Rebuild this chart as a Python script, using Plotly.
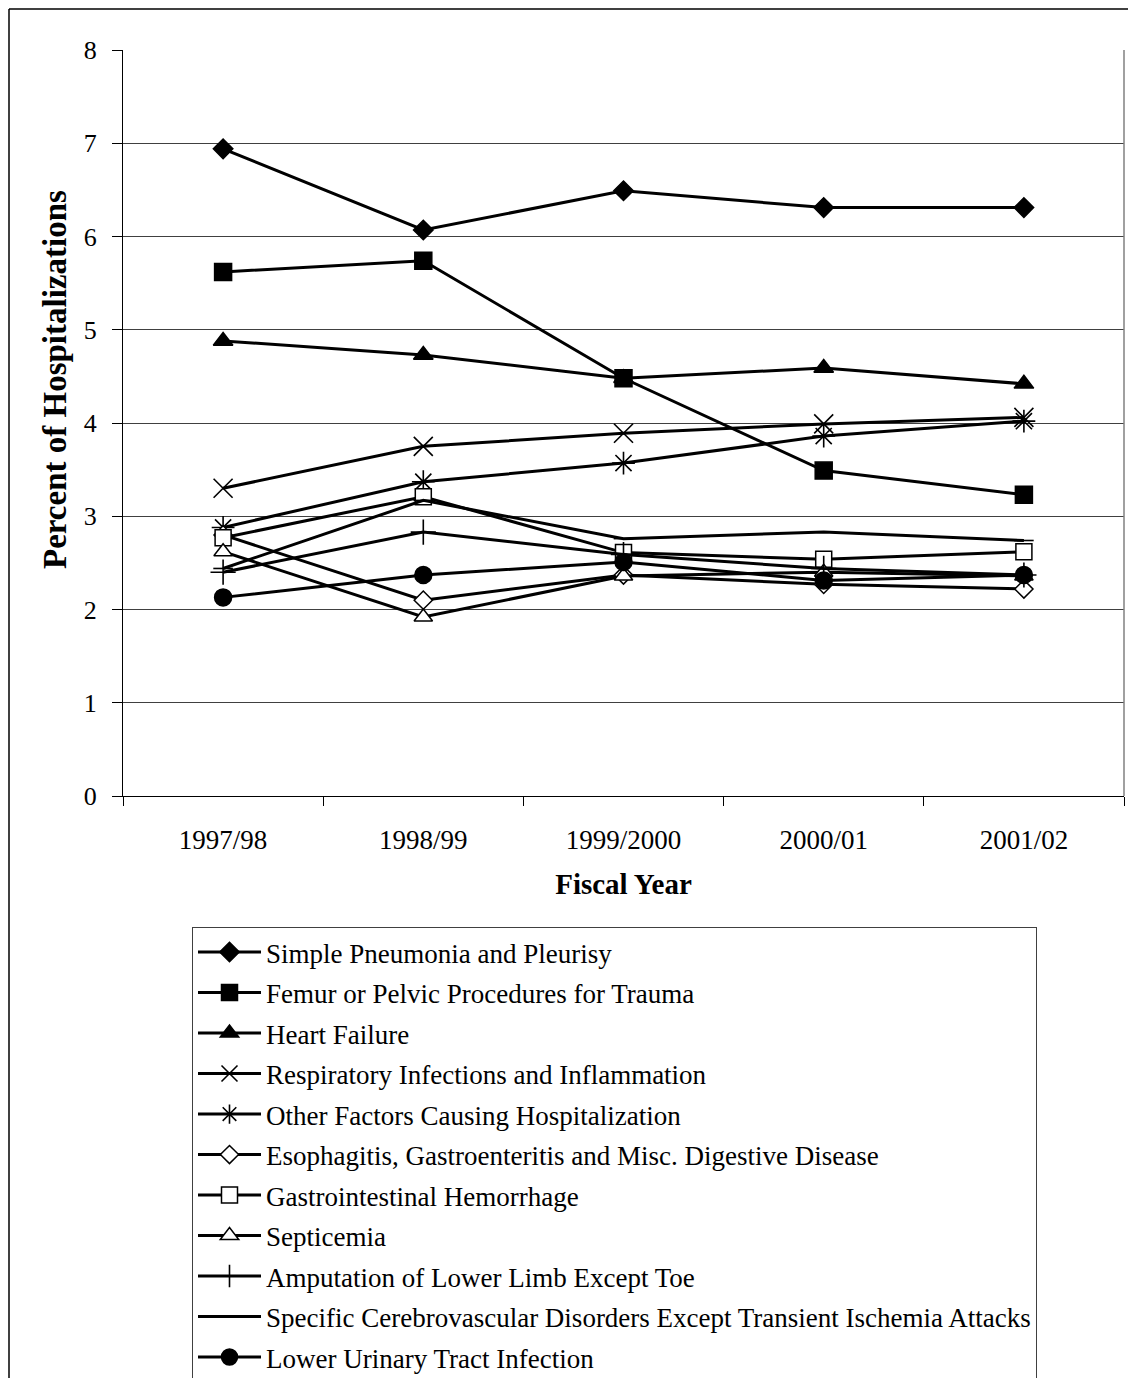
import plotly.graph_objects as go

years = ["1997/98", "1998/99", "1999/2000", "2000/01", "2001/02"]

pneumonia = [6.94, 6.07, 6.49, 6.31, 6.31]
femur = [5.62, 5.74, 4.48, 3.49, 3.23]
heart_failure = [4.88, 4.73, 4.48, 4.59, 4.42]
respiratory = [3.30, 3.75, 3.89, 3.99, 4.06]
other_factors = [2.88, 3.37, 3.57, 3.86, 4.02]
esophagitis = [2.80, 2.10, 2.37, 2.27, 2.22]
gi_hemorrhage = [2.77, 3.21, 2.61, 2.54, 2.62]
septicemia = [2.62, 1.92, 2.36, 2.40, 2.36]
amputation = [2.40, 2.83, 2.59, 2.44, 2.37]
cerebrovascular = [2.44, 3.17, 2.76, 2.83, 2.74]
uti = [2.13, 2.37, 2.51, 2.31, 2.37]

series = [
    ("Simple Pneumonia and Pleurisy", pneumonia, "diamond", "black", 15),
    ("Femur or Pelvic Procedures for Trauma", femur, "square", "black", 17),
    ("Heart Failure", heart_failure, "triangle-up", "black", 17),
    ("Respiratory Infections and Inflammation", respiratory, "x-thin", "black", 19),
    ("Other Factors Causing Hospitalization", other_factors, "asterisk", "black", 19),
    ("Esophagitis, Gastroenteritis and Misc. Digestive Disease", esophagitis, "diamond", "white", 14),
    ("Gastrointestinal Hemorrhage", gi_hemorrhage, "square", "white", 16),
    ("Septicemia", septicemia, "triangle-up", "white", 16),
    ("Amputation of Lower Limb Except Toe", amputation, "cross-thin", "black", 18),
    ("Specific Cerebrovascular Disorders Except Transient Ischemia Attacks", cerebrovascular, "line-ew", "black", 14),
    ("Lower Urinary Tract Infection", uti, "circle", "black", 17),
]

FONT = "Liberation Serif, Times New Roman, serif"

fig = go.Figure()
for i, (name, vals, sym, fill, size) in enumerate(series):
    thin = sym in ("x-thin", "asterisk", "cross-thin", "line-ew")
    fig.add_trace(go.Scatter(
        x=years, y=vals, name=name, mode="lines+markers",
        line=dict(color="black", width=3),
        marker=dict(symbol=sym, size=size, color=fill,
                    line=dict(color="black", width=1.6 if thin else 1.5)),
        legendgroup="g%d" % i,
    ))

W, H = 1128, 1378
L, R, T, B = 123, 4, 50, 582
pw = W - L - R
ph = H - T - B

def px_x(p):
    return (p - L) / pw

def px_y(p):
    return (H - B - p) / ph

fig.update_layout(
    width=W, height=H,
    margin=dict(l=L, r=R, t=T, b=B, pad=0, autoexpand=False),
    paper_bgcolor="white", plot_bgcolor="white",
    font=dict(family=FONT, size=27, color="black"),
    showlegend=True,
    legend=dict(
        x=px_x(192), y=px_y(927), xanchor="left", yanchor="top",
        bordercolor="#404040", borderwidth=1, bgcolor="white",
        font=dict(family=FONT, size=27, color="black"),
        tracegroupgap=2.4, itemwidth=63,
    ),
    xaxis=dict(
        type="category", range=[-0.5, 4.5],
        showline=True, linecolor="black", linewidth=1,
        ticks="outside", ticklen=9, tickcolor="black", tickson="boundaries",
        showgrid=False, ticklabelstandoff=20,
        tickfont=dict(family=FONT, size=27),
        title=dict(text="<b>Fiscal Year</b>", font=dict(family=FONT, size=29), standoff=19),
        fixedrange=True,
    ),
    yaxis=dict(
        range=[0, 8], dtick=1, tick0=0,
        showline=True, linecolor="black", linewidth=1,
        ticks="outside", ticklen=10, tickcolor="black",
        showgrid=True, gridcolor="#404040", gridwidth=1,
        zeroline=False,
        tickfont=dict(family=FONT, size=26), ticklabelstandoff=10,
        fixedrange=True,
    ),
    annotations=[dict(
        text="<b>Percent of Hospitalizations</b>", textangle=-90,
        xref="paper", yref="paper", x=px_x(55), y=px_y(380),
        xanchor="center", yanchor="middle", showarrow=False,
        font=dict(family=FONT, size=33, color="black"),
    )],
)

# plot area right border (gray)
fig.add_shape(type="line", xref="paper", yref="paper", x0=1, x1=1, y0=0, y1=1,
              line=dict(color="#808080", width=1.5))
# outer chart border (left and top visible)
fig.add_shape(type="line", xref="paper", yref="paper",
              x0=px_x(9), x1=px_x(9), y0=px_y(9), y1=px_y(1400),
              line=dict(color="black", width=1.5))
fig.add_shape(type="line", xref="paper", yref="paper",
              x0=px_x(9), x1=px_x(1140), y0=px_y(9), y1=px_y(9),
              line=dict(color="black", width=1.5))

fig.write_html("out.html", config=dict(displayModeBar=False),
               post_script="document.body.style.margin='0';")
